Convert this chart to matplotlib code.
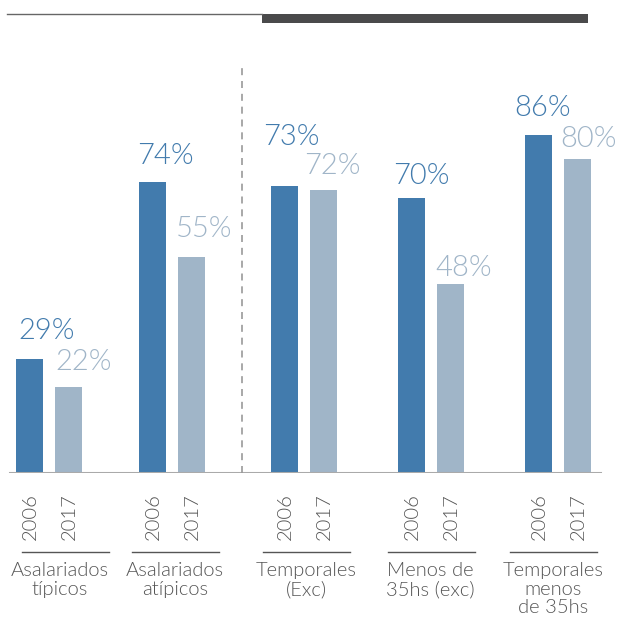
import matplotlib
matplotlib.use("Agg")
import matplotlib.pyplot as plt
from matplotlib.patches import Rectangle
from matplotlib.lines import Line2D

categories = ["Asalariados\ntípicos", "Asalariados\natípicos", "Temporales\n(Exc)",
              "Menos de\n35hs (exc)", "Temporales\nmenos\nde 35hs"]
years = ["2006", "2017"]
v2006 = [29, 74, 73, 70, 86]
v2017 = [22, 55, 72, 48, 80]

W, H = 617, 619
fig = plt.figure(figsize=(W/100, H/100), dpi=100)
plt.rcParams['font.family'] = ['Lato', 'DejaVu Sans']

base_px = 473
ppu = 3.93
ylim_top = 110
ax = fig.add_axes([0, (H-base_px)/H, 1, ylim_top*ppu/H])
ax.set_xlim(0, W)
ax.set_ylim(0, ylim_top)
ax.axis('off')

# layout (pixels)
centres = [49, 172, 304, 431, 558]
line_centres = [65, 175.5, 306.5, 431, 553.5]
label_centres = [60, 175, 306, 430, 553.5]
dx06 = [2, -2, -8, -5, -11]
dx17 = [0, -2, -6, -2, -4]
gap06 = [20, 18, 41, 14, 19]
gap17 = [17, 20, 16, 8, 12]

c1 = '#427bad'
c2 = '#a0b5c8'
tc = '#555555'
bw = 27
off = 19.5
ax.bar([c-off for c in centres], v2006, width=bw, color=c1)
ax.bar([c+off for c in centres], v2017, width=bw, color=c2)

yline = -(552-base_px)/ppu
for i, c in enumerate(centres):
    ax.annotate(f"{v2006[i]}%", (c-off-bw/2, v2006[i]), xytext=(dx06[i], gap06[i]),
                textcoords='offset pixels', ha='left', va='baseline', fontsize=21,
                color=c1, fontweight=300, annotation_clip=False)
    ax.annotate(f"{v2017[i]}%", (c+off-bw/2, v2017[i]), xytext=(dx17[i], gap17[i]),
                textcoords='offset pixels', ha='left', va='baseline', fontsize=21,
                color=c2, fontweight=300, annotation_clip=False)
    for k, o in enumerate([-off, off]):
        ax.annotate(years[k], (c+o+1, 0), xytext=(0, -20), textcoords='offset pixels',
                    ha='center', va='top', rotation=90, fontsize=14.5, color=tc,
                    fontweight=300, annotation_clip=False)
    lc = line_centres[i]
    ax.plot([lc-43.5, lc+43.5], [yline]*2, color=tc, lw=1, clip_on=False)
    ax.annotate(categories[i], (label_centres[i], yline), xytext=(0, -10),
                textcoords='offset pixels', ha='center', va='top', fontsize=14.5,
                color=tc, linespacing=1.12, fontweight=300, annotation_clip=False)

ax.axhline(0, xmin=10/W, xmax=600/W, color='#aaaaaa', lw=2.2)
ax.plot([242, 242], [0, (base_px-68)/ppu], color='#999999', lw=1.2,
        dashes=(4.2, 3.5), clip_on=False)

fig.add_artist(Line2D([7/W, 262/W], [1-14/H, 1-14/H], color='#666666', lw=1))
fig.add_artist(Rectangle((262/W, 1-23/H), (588-262)/W, 9/H, color='#4a4a4b', lw=0))

fig.savefig("out.png", dpi=100)
